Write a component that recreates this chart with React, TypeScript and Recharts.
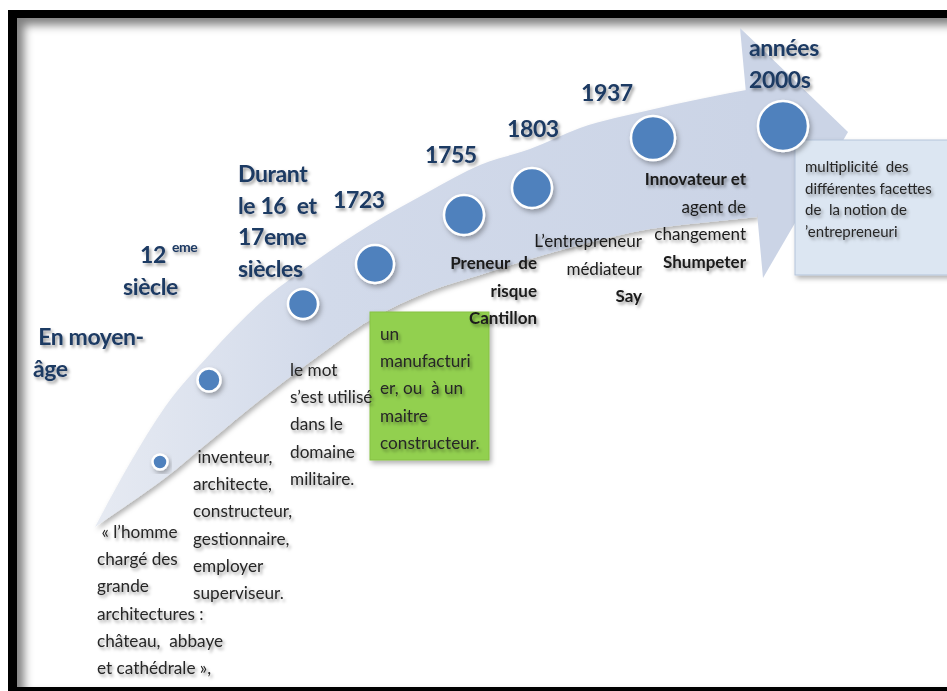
import React from 'react';
import { ComposedChart, XAxis, YAxis, Area, Scatter, ReferenceArea } from 'recharts';

const WIDTH = 947;
const HEIGHT = 691;

// Curved arrow shaft: sampled positions with its upper and lower edge
const shaftX = [95, 130, 165, 210, 260, 310, 370, 430, 480, 530, 580, 650, 700, 757];
const shaftTop = [527, 463, 407, 354, 303, 265, 225, 191, 165, 149, 128, 110, 99, 88];
const shaftBottom = [527, 503, 478, 441, 400, 362, 320, 291, 275, 259, 245, 229, 223, 217];

// Arrow head
const headX = [740, 763, 848];
const headTop = [28, 50, 132];
const headBottom = [28, 278, 132];

// Timeline milestones (circles)
const eventX = [160, 209, 303, 375, 464, 532, 653, 783];
const eventY = [462, 380, 304, 264, 215, 188, 138, 126];
const eventR = [7.5, 11.5, 15, 19, 20, 20, 22, 25];

// Period / year titles
const periodX = [33, 123, 238, 333, 425, 507, 581, 749];
const periodY = [345, 295, 182, 208, 163, 137, 101, 56];
const periodText = [
  [' En moyen-', 'âge'],
  ['siècle'],
  ['Durant', 'le 16  et', '17eme', 'siècles'],
  ['1723'],
  ['1755'],
  ['1803'],
  ['1937'],
  ['années', '2000s'],
];
// "12 eme" title
const centuryX = [140];
const centuryY = [263];
const centuryBase = ['12'];
const centurySup = ['eme'];

// Descriptions
const descX = [97, 193, 290, 380];
const descY = [538, 463, 376, 340];
const descText = [
  [' « l’homme', 'chargé des', 'grande', 'architectures :', 'château,  abbaye', 'et cathédrale »,'],
  [' inventeur,', 'architecte,', 'constructeur,', 'gestionnaire,', 'employer', 'superviseur.'],
  ['le mot', 's’est utilisé', 'dans le', 'domaine', 'militaire.'],
  ['un', 'manufacturi', 'er, ou  à un', 'maitre', 'constructeur.'],
];

// Actors (right aligned)
const actorX = [537, 642, 746];
const actorY = [269, 247, 185];
const actorText = [
  ['Preneur  de', 'risque', 'Cantillon'],
  ['L’entrepreneur', 'médiateur', 'Say'],
  ['Innovateur et', 'agent de', 'changement', 'Shumpeter'],
];
const actorBold = [
  [0, 1, 2],
  [2],
  [0, 3],
];

// Final note
const noteX = [805];
const noteY = [172];
const noteText = [['multiplicité  des', 'différentes facettes', 'de  la notion de', '’entrepreneuri']];

// Boxes
const greenBox = { x1: 370, x2: 489, y1: 312, y2: 460 };
const blueBox = { x1: 795, x2: 980, y1: 140, y2: 275 };

const shaftData = shaftX.map((x, i) => ({ x, band: [shaftTop[i], shaftBottom[i]] }));
const headData = headX.map((x, i) => ({ x, band: [headTop[i], headBottom[i]] }));
const eventData = eventX.map((x, i) => ({ x, y: eventY[i], r: eventR[i] }));
const periodData = periodX.map((x, i) => ({ x, y: periodY[i], lines: periodText[i] }));
const centuryData = centuryX.map((x, i) => ({ x, y: centuryY[i], base: centuryBase[i], sup: centurySup[i] }));
const descData = descX.map((x, i) => ({ x, y: descY[i], lines: descText[i] }));
const actorData = actorX.map((x, i) => ({ x, y: actorY[i], lines: actorText[i], bold: actorBold[i] }));
const noteData = noteX.map((x, i) => ({ x, y: noteY[i], lines: noteText[i] }));

const FONT = "Lato, 'Open Sans', sans-serif";
const NAVY = '#1f3a63';

const makeText = (size: number, lh: number, color: string, weight: string, anchor: string, spacing = 0) => (props: any) => {
  const { cx, cy, payload } = props;
  if (cx == null || cy == null) return null;
  const boldSet: number[] = payload.bold || [];
  return (
    <text
      x={cx}
      y={cy}
      textAnchor={anchor as any}
      fontFamily={FONT}
      fontSize={size}
      fill={color}
      fontWeight={weight}
      letterSpacing={spacing}
      filter="url(#txtShadow)"
      style={{ whiteSpace: 'pre' }}
    >
      {payload.lines.map((l: string, i: number) => (
        <tspan key={i} x={cx} y={cy + i * lh} fontWeight={boldSet.includes(i) ? 'bold' : weight}>
          {l}
        </tspan>
      ))}
    </text>
  );
};

const centuryShape = (props: any) => {
  const { cx, cy, payload } = props;
  if (cx == null || cy == null) return null;
  return (
    <text x={cx} y={cy} fontFamily={FONT} fontSize={23} letterSpacing={-0.4} fontWeight="bold" fill={NAVY} filter="url(#txtShadow)">
      <tspan>{payload.base}</tspan>
      <tspan dx={6} dy={-11} fontSize={14}>{payload.sup}</tspan>
    </text>
  );
};

const circleShape = (props: any) => {
  const { cx, cy, payload } = props;
  if (cx == null || cy == null) return null;
  return (
    <circle cx={cx} cy={cy} r={payload.r} fill="#4f81bd" stroke="#ffffff" strokeWidth={2.5} filter="url(#shapeShadow)" />
  );
};

const boxShape = (fill: string, stroke: string) => (props: any) => {
  const { x, y, width, height } = props;
  return <rect x={x} y={y} width={width} height={height} fill={fill} stroke={stroke} strokeWidth={1} filter="url(#shapeShadow)" />;
};

export default function App() {
  return (
    <div style={{ position: 'absolute', left: 0, top: 0, width: WIDTH, height: HEIGHT, overflow: 'hidden', background: '#ffffff' }}>
      <div
        style={{
          position: 'absolute',
          left: 8,
          top: 10,
          width: 1000,
          height: 686,
          boxSizing: 'border-box',
          borderLeft: '9px solid #000',
          borderTop: '8px solid #000',
          borderBottom: '9px solid #000',
          boxShadow: 'inset 7px 7px 10px rgba(0,0,0,0.5)',
        }}
      />
      <div style={{ position: 'absolute', left: 0, top: 0 }}>
        <ComposedChart width={WIDTH} height={HEIGHT} margin={{ top: 0, right: 0, bottom: 0, left: 0 }}>
          <defs>
            <filter id="txtShadow" x="-20%" y="-20%" width="150%" height="150%">
              <feDropShadow dx="2" dy="2.5" stdDeviation="1.7" floodColor="#000" floodOpacity="0.38" />
            </filter>
            <filter id="shapeShadow" x="-20%" y="-20%" width="150%" height="150%">
              <feDropShadow dx="2" dy="3" stdDeviation="2.5" floodColor="#000" floodOpacity="0.3" />
            </filter>
            <linearGradient id="arrowFill" x1="0" y1="0" x2="1" y2="0">
              <stop offset="0%" stopColor="#e6eaf2" />
              <stop offset="35%" stopColor="#d2daea" />
              <stop offset="100%" stopColor="#cbd4e6" />
            </linearGradient>
          </defs>
          <XAxis type="number" dataKey="x" domain={[0, WIDTH]} hide allowDataOverflow />
          <YAxis type="number" dataKey="y" domain={[0, HEIGHT]} reversed hide allowDataOverflow />
          <Area
            data={shaftData}
            dataKey="band"
            type="monotone"
            stroke="none"
            fill="url(#arrowFill)"
            fillOpacity={1}
            isAnimationActive={false}
            dot={false}
            activeDot={false}
            filter="url(#shapeShadow)"
          />
          <Area
            data={headData}
            dataKey="band"
            type="linear"
            stroke="none"
            fill="#cbd4e6"
            fillOpacity={1}
            isAnimationActive={false}
            dot={false}
            activeDot={false}
          />
          <Scatter data={eventData} shape={circleShape} isAnimationActive={false} />
          <ReferenceArea {...greenBox} ifOverflow="hidden" shape={boxShape('#92d050', '#86c144')} />
          <ReferenceArea {...blueBox} ifOverflow="hidden" shape={boxShape('#dce6f2', '#b4c4da')} />
          <Scatter data={periodData} shape={makeText(23, 31.5, NAVY, 'bold', 'start', -0.4)} isAnimationActive={false} />
          <Scatter data={centuryData} shape={centuryShape} isAnimationActive={false} />
          <Scatter data={descData} shape={makeText(17.2, 27.2, '#262626', 'normal', 'start')} isAnimationActive={false} />
          <Scatter data={actorData} shape={makeText(17, 27.5, '#1a1a1a', 'normal', 'end')} isAnimationActive={false} />
          <Scatter data={noteData} shape={makeText(15, 21.7, '#262626', 'normal', 'start')} isAnimationActive={false} />
        </ComposedChart>
      </div>
    </div>
  );
}
